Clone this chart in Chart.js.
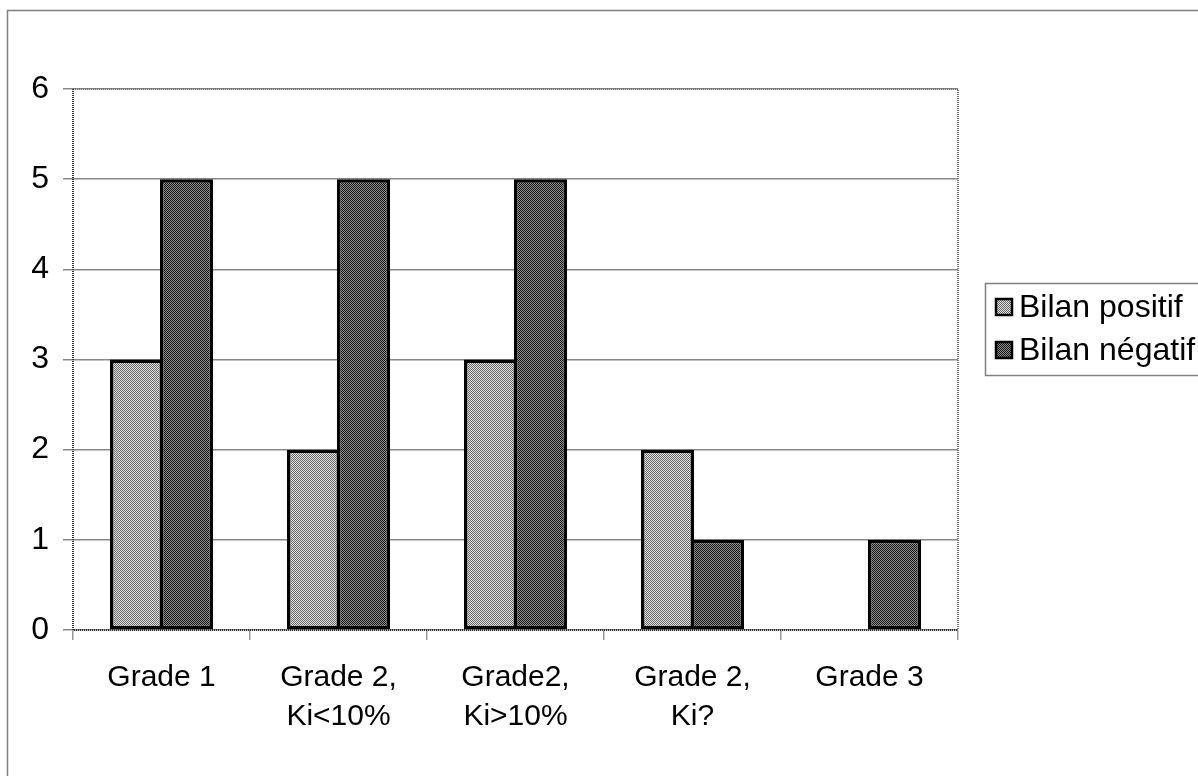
<!DOCTYPE html>
<html>
<head>
<meta charset="utf-8">
<script src="https://cdn.jsdelivr.net/npm/chart.js@4/dist/chart.umd.min.js"></script>
<style>
  html, body { margin: 0; padding: 0; background: #fff; }
  #wrap { width: 1198px; height: 776px; position: relative; }
</style>
</head>
<body>
<div id="wrap"><canvas id="c" width="1198" height="776"></canvas></div>
<script>
// Categories (multi-line labels) and the two series
const categories = [
  ['Grade 1'],
  ['Grade 2,', 'Ki<10%'],
  ['Grade2,', 'Ki>10%'],
  ['Grade 2,', 'Ki?'],
  ['Grade 3']
];
const seriesNames = ['Bilan positif', 'Bilan négatif'];
const bilanPositif = [3, 2, 3, 2, 0];
const bilanNegatif = [5, 5, 5, 1, 1];
const yTicks = [0, 1, 2, 3, 4, 5, 6];

const FONT = '"Liberation Sans", Arial, Helvetica, sans-serif';

// Two-colour checker fills, like a dithered grey
function checker(a, b) {
  const p = document.createElement('canvas');
  p.width = 2; p.height = 2;
  const g = p.getContext('2d');
  g.fillStyle = a; g.fillRect(0, 0, 2, 2);
  g.fillStyle = b; g.fillRect(0, 0, 1, 1); g.fillRect(1, 1, 1, 1);
  return g.createPattern(p, 'repeat');
}
const ctx0 = document.getElementById('c').getContext('2d');
const lightFill = checker('#e2e2e2', '#686868');
const darkFill = checker('#8e8e8e', '#151515');
const fills = [lightFill, darkFill];

// Frame, dotted plot border and boxed legend
const decor = {
  id: 'decor',
  afterDraw(chart) {
    const c = chart.ctx;
    const a = chart.chartArea;
    c.save();
    // outer frame
    c.strokeStyle = '#808080';
    c.lineWidth = 1.5;
    c.beginPath();
    c.moveTo(7.5, 776); c.lineTo(7.5, 10.5); c.lineTo(1198, 10.5);
    c.stroke();
    // dotted plot-area border (top, right)
    c.setLineDash([1, 1]);
    c.strokeStyle = '#777';
    c.lineWidth = 2;
    c.beginPath();
    c.moveTo(a.left, a.top); c.lineTo(a.right, a.top); c.lineTo(a.right, a.bottom);
    c.stroke();
    // axis lines (left, bottom)
    c.strokeStyle = '#333';
    c.beginPath();
    c.moveTo(a.left, a.top); c.lineTo(a.left, a.bottom); c.lineTo(a.right, a.bottom);
    c.stroke();
    c.setLineDash([]);
    // legend box
    const lx = 985.5, ly = 283.5, lw = 230, lh = 92;
    c.strokeStyle = '#808080';
    c.lineWidth = 1.5;
    c.strokeRect(lx, ly, lw, lh);
    c.font = '32px ' + FONT;
    c.textBaseline = 'middle';
    const rows = [307, 350];
    chart.data.datasets.forEach((ds, i) => {
      const y = rows[i];
      c.fillStyle = ds.backgroundColor;
      c.fillRect(995, y - 9, 18, 18);
      c.strokeStyle = '#000';
      c.lineWidth = 2.5;
      c.strokeRect(996, y - 8, 16, 16);
      c.fillStyle = '#000';
      c.fillText(ds.label, 1019, y + 1);
    });
    c.restore();
  }
};

new Chart(ctx0, {
  type: 'bar',
  data: {
    labels: categories,
    datasets: [
      { label: seriesNames[0], data: bilanPositif, backgroundColor: fills[0] },
      { label: seriesNames[1], data: bilanNegatif, backgroundColor: fills[1] }
    ]
  },
  options: {
    responsive: false,
    animation: false,
    devicePixelRatio: 1,
    layout: { padding: { left: 0, top: 89, right: 240, bottom: 0 } },
    datasets: {
      bar: {
        borderColor: '#000',
        borderWidth: 3.5,
        borderSkipped: false,
        categoryPercentage: 0.565,
        barPercentage: 1.06
      }
    },
    plugins: {
      legend: { display: false },
      tooltip: { enabled: false }
    },
    scales: {
      x: {
        afterFit(s) { s.height = 146; },
        grid: {
          offset: true,
          drawOnChartArea: false,
          drawTicks: true,
          tickLength: 10,
          color: '#999',
          lineWidth: 1.5
        },
        border: { display: false },
        ticks: {
          color: '#000',
          padding: 18,
          maxRotation: 0,
          autoSkip: false,
          font: { family: FONT, size: 30, lineHeight: 1.3 }
        }
      },
      y: {
        min: 0,
        max: 6,
        afterFit(s) { s.width = 73; },
        afterBuildTicks(s) { s.ticks = yTicks.map(v => ({ value: v })); },
        grid: {
          color: '#888',
          lineWidth: 1.5,
          drawTicks: true,
          tickLength: 10
        },
        border: { display: false },
        ticks: {
          color: '#000',
          padding: 14,
          font: { family: FONT, size: 32 }
        }
      }
    }
  },
  plugins: [decor]
});
</script>
</body>
</html>
